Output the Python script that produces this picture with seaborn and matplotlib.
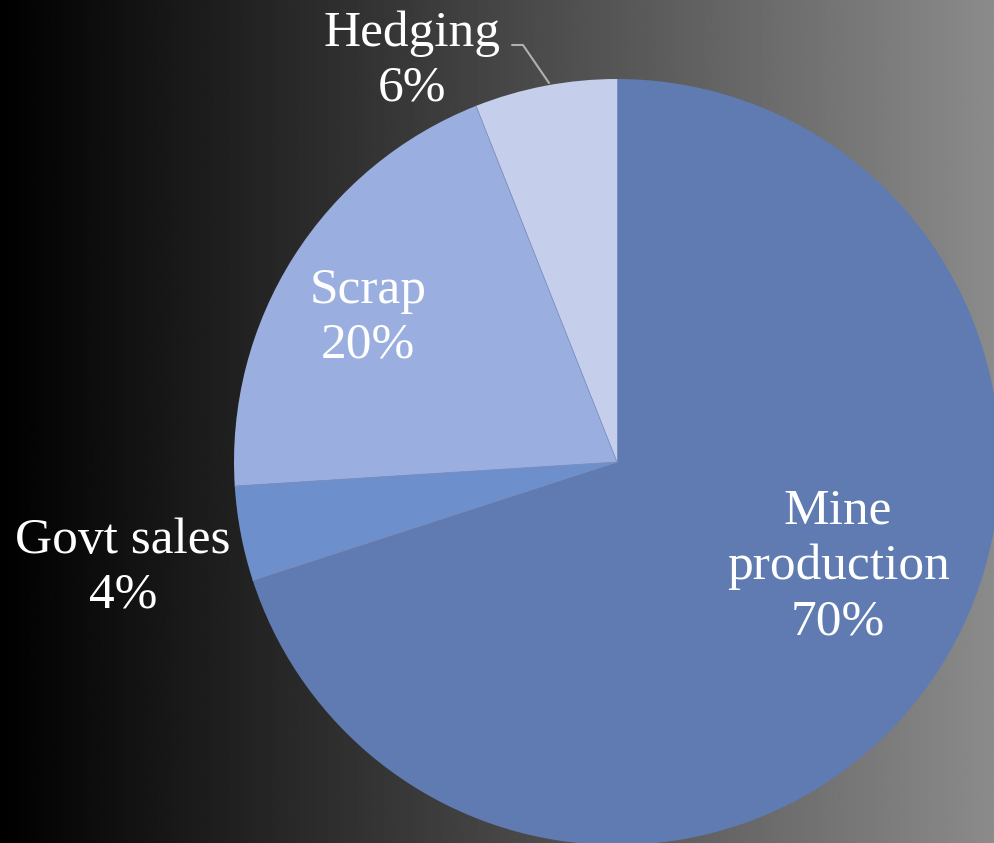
import numpy as np
import matplotlib
matplotlib.use("Agg")
import matplotlib.pyplot as plt
import seaborn as sns

# ---- data ----
categories = ["Mine production", "Govt sales", "Scrap", "Hedging"]
label_lines = ["Mine\nproduction", "Govt sales", "Scrap", "Hedging"]
shares = [70, 4, 20, 6]
colors = ["#5F7BB1", "#6D8FCB", "#9AAEDF", "#C5CEEA"]

sns.set_style("white")
plt.rcParams["font.family"] = ["Liberation Serif", "DejaVu Serif"]

W, H = 995, 843
fig = plt.figure(figsize=(W / 100, H / 100), dpi=100)
ax = fig.add_axes([0, 0, 1, 1])

# background gradient black -> grey
grad = np.linspace(0.0, 0.545, 512).reshape(1, -1)
ax.imshow(grad, extent=[0, W, 0, H], cmap="gray", vmin=0, vmax=1,
          aspect="auto", zorder=0)

cx, cy, R = 617, H - 462, 383
wedges, _ = ax.pie(shares, colors=colors, startangle=90, counterclock=False,
                   center=(cx, cy), radius=R, frame=True,
                   wedgeprops=dict(edgecolor="none", linewidth=0, zorder=2))
# thin separators between wedges
for w in wedges:
    th = np.deg2rad(w.theta1)
    ax.plot([cx, cx + R * np.cos(th)], [cy, cy + R * np.sin(th)],
            color="#7f92c4", linewidth=0.6, zorder=3)

ax.set_xlim(0, W)
ax.set_ylim(0, H)
ax.set_aspect("equal")
ax.axis("off")

fs = 37
# label placement (center of text block, in pixel coords from top)
label_pos = {
    "Mine production": (838, 567),
    "Govt sales": (123, 568),
    "Scrap": (368, 318),
    "Hedging": (412, 61),
}
for cat, lines, val in zip(categories, label_lines, shares):
    x, ytop = label_pos[cat]
    ax.text(x, H - ytop, f"{lines}\n{val}%", ha="center", va="center",
            color="white", fontsize=fs, linespacing=1.25, zorder=5)

# leader line for Hedging
ax.plot([512, 523, 549], [H - 45, H - 45, H - 83], color="#b0b0b0",
        linewidth=1.5, zorder=4)

fig.savefig("out.png", dpi=100)
